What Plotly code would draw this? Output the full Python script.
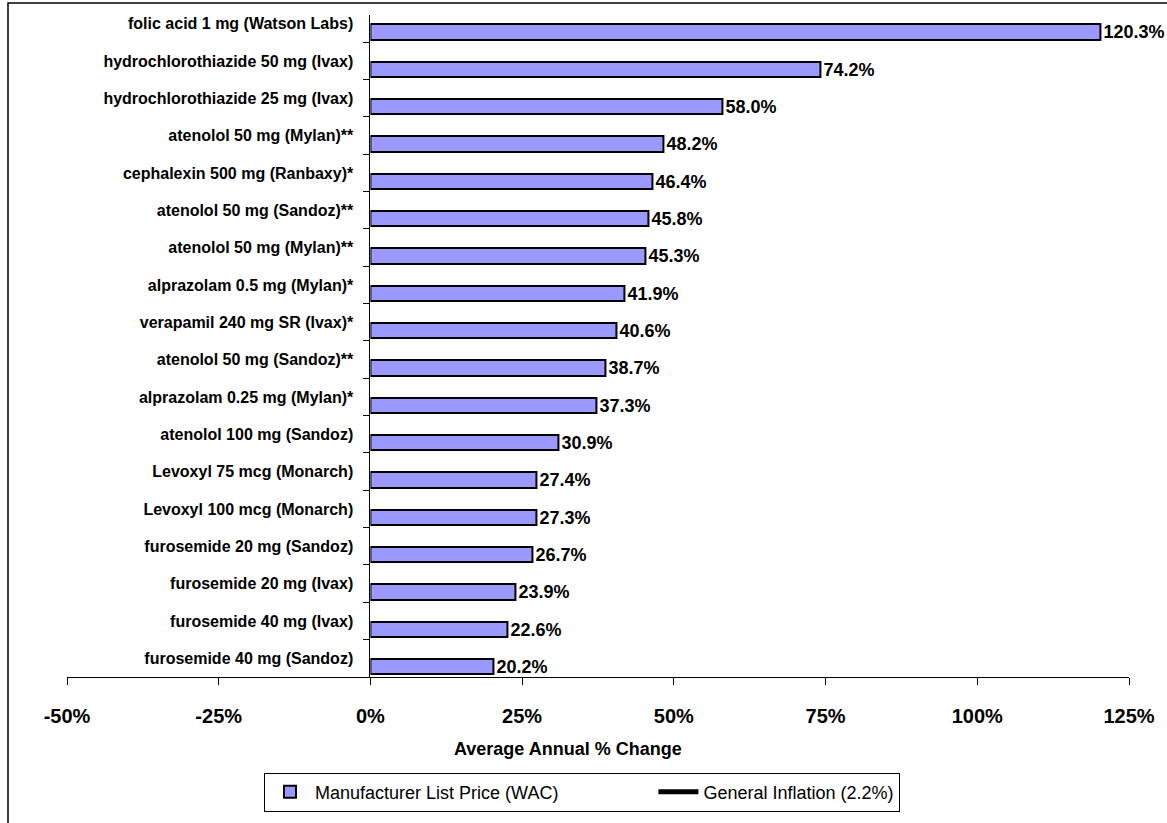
import plotly.graph_objects as go

drugs = [
    "folic acid 1 mg (Watson Labs)",
    "hydrochlorothiazide 50 mg (Ivax)",
    "hydrochlorothiazide 25 mg (Ivax)",
    "atenolol 50 mg (Mylan)**",
    "cephalexin 500 mg (Ranbaxy)*",
    "atenolol 50 mg (Sandoz)**",
    "atenolol 50 mg (Mylan)**",
    "alprazolam 0.5 mg (Mylan)*",
    "verapamil 240 mg SR (Ivax)*",
    "atenolol 50 mg (Sandoz)**",
    "alprazolam 0.25 mg (Mylan)*",
    "atenolol 100 mg (Sandoz)",
    "Levoxyl 75 mcg (Monarch)",
    "Levoxyl 100 mcg (Monarch)",
    "furosemide 20 mg (Sandoz)",
    "furosemide 20 mg (Ivax)",
    "furosemide 40 mg (Ivax)",
    "furosemide 40 mg (Sandoz)",
]
wac_change = [120.3, 74.2, 58.0, 48.2, 46.4, 45.8, 45.3, 41.9, 40.6,
              38.7, 37.3, 30.9, 27.4, 27.3, 26.7, 23.9, 22.6, 20.2]
inflation = 2.2
x_ticks = [-50, -25, 0, 25, 50, 75, 100, 125]
x_tick_labels = ["-50%", "-25%", "0%", "25%", "50%", "75%", "100%", "125%"]

# unique category keys (some drug labels repeat)
keys = [f"row{i}" for i in range(len(drugs))]

FONT = "Liberation Sans, Arial, sans-serif"
W, H = 1167, 823
L, R, T, B = 67, 38, 15, 143
pw, ph = W - L - R, H - T - B
xmin, xmax = x_ticks[0], x_ticks[-1]
split = (0 - xmin) / (xmax - xmin)   # paper position of x = 0
yrange = [len(drugs) - 0.5, -0.23]

fig = go.Figure()
# bars live on x2 (0 .. 125, starting at the x = 0 position) so the
# category axis can be anchored there with normal tick marks
fig.add_trace(go.Bar(
    x=wac_change, y=keys, orientation="h",
    name="Manufacturer List Price (WAC)" + "\u00a0" * 18,
    marker=dict(color="#9999FF", line=dict(color="black", width=2)),
    width=0.41, offset=0.02,
    text=[f"{v:.1f}%" for v in wac_change],
    textposition="outside",
    constraintext="none",
    textfont=dict(family=FONT, size=18, color="black", weight="bold"),
    cliponaxis=False,
    xaxis="x2",
))
fig.add_trace(go.Scatter(
    x=[inflation, inflation], y=[keys[0], keys[-1]],
    mode="lines", name=f"General Inflation ({inflation}%)",
    line=dict(color="black", width=5),
    xaxis="x",
))

fig.update_layout(
    width=W, height=H,
    margin=dict(l=L, r=R, t=T, b=B),
    paper_bgcolor="white", plot_bgcolor="white",
    font=dict(family=FONT, color="black"),
    xaxis=dict(
        domain=[0, 1], range=[xmin, xmax], anchor="y",
        tickmode="array", tickvals=x_ticks, ticktext=x_tick_labels,
        showgrid=False, zeroline=False,
        showline=True, linecolor="black", linewidth=1,
        ticks="outside", ticklen=7, tickcolor="black",
        tickfont=dict(size=20, weight="bold"),
        ticklabelstandoff=14,
    ),
    xaxis2=dict(
        domain=[split, 1], range=[0, xmax], anchor="y",
        visible=False, showgrid=False, zeroline=False,
    ),
    yaxis=dict(
        type="category", categoryorder="array", categoryarray=keys,
        range=yrange, anchor="x2",
        tickmode="array", tickvals=keys, ticktext=drugs,
        tickson="boundaries",
        showgrid=False, zeroline=False,
        showline=True, linecolor="black", linewidth=1,
        ticks="outside", ticklen=6, tickcolor="black", tickwidth=1,
        ticklabelstandoff=13,
        tickfont=dict(size=16, weight="bold"),
    ),
    annotations=[dict(
        text="Average Annual % Change", xref="paper", yref="paper",
        x=(568 - L) / pw, y=(H - B - 752) / ph,
        xanchor="center", yanchor="middle", showarrow=False,
        font=dict(size=18, weight="bold", family=FONT),
    )],
    showlegend=True,
    legend=dict(
        orientation="h", x=(264 - L) / pw, y=(H - B - 776) / ph,
        xanchor="left", yanchor="top",
        bordercolor="black", borderwidth=1, bgcolor="white",
        font=dict(size=18, family=FONT),
        itemwidth=40, traceorder="normal",
    ),
    bargap=0,
    shapes=[dict(
        type="rect", xref="paper", yref="paper",
        x0=(8 - L) / pw, x1=1.2, y0=-0.5, y1=(H - B - 3) / ph,
        line=dict(color="black", width=1.5), fillcolor="rgba(0,0,0,0)",
        layer="below",
    )],
)

fig.write_html("out.html")
